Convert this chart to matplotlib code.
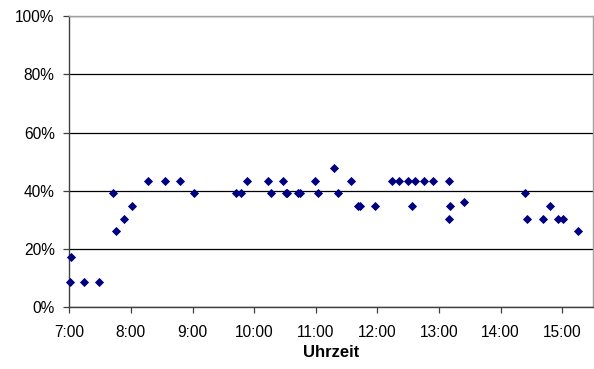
import matplotlib
matplotlib.use('Agg')
import matplotlib.pyplot as plt
from matplotlib.ticker import FuncFormatter, MultipleLocator

# observation times (hh:mm) and share in percent
times = ['7:01', '7:02', '7:14', '7:29', '7:43', '7:45', '7:53', '8:01',
         '8:17', '8:33', '8:48', '9:01', '9:42', '9:47', '9:53', '10:13',
         '10:16', '10:28', '10:31', '10:32', '10:43', '10:45', '10:59', '11:02',
         '11:18', '11:22', '11:34', '11:41', '11:43', '11:58', '12:14', '12:21',
         '12:30', '12:34', '12:37', '12:45', '12:54', '13:10', '13:11', '13:10',
         '13:24', '14:24', '14:26', '14:41', '14:48', '14:56', '15:01', '15:15']
values = [8.7, 17.4, 8.7, 8.7, 39.1, 26.1, 30.4, 34.8,
          43.5, 43.5, 43.5, 39.1, 39.1, 39.1, 43.5, 43.5,
          39.1, 43.5, 39.1, 39.1, 39.1, 39.1, 43.5, 39.1,
          47.8, 39.1, 43.5, 34.8, 34.8, 34.8, 43.5, 43.5,
          43.5, 34.8, 43.5, 43.5, 43.5, 43.5, 34.8, 30.4,
          36.2, 39.1, 30.4, 30.4, 34.8, 30.4, 30.4, 26.1]
x_label = 'Uhrzeit'


def to_hours(t):
    h, m = t.split(':')
    return int(h) + int(m) / 60.0


hours = [to_hours(t) for t in times]

plt.rcParams['font.family'] = ['Liberation Sans', 'DejaVu Sans']

fig = plt.figure(figsize=(5.94, 3.69), dpi=100)
ax = fig.add_axes([0.1167, 0.1672, 0.8817, 0.7894])

ax.plot(hours, values, linestyle='none', marker='D', markersize=3.8,
        markerfacecolor='#000080', markeredgecolor='#000080', markeredgewidth=0.6,
        zorder=3, clip_on=False)

ax.set_xlim(7, 15.5)
ax.set_ylim(0, 100)
ax.set_xticks(range(7, 16))
ax.xaxis.set_major_formatter(FuncFormatter(lambda v, p: '%d:00' % int(round(v))))
ax.yaxis.set_major_locator(MultipleLocator(20))
ax.yaxis.set_major_formatter(FuncFormatter(lambda v, p: '%d%%' % int(round(v))))

ax.grid(axis='y', color='black', linewidth=0.9, zorder=1)
ax.set_axisbelow(True)

for side in ['top', 'right']:
    ax.spines[side].set_color('#a0a0a0')
    ax.spines[side].set_linewidth(1.0)
for side in ['left', 'bottom']:
    ax.spines[side].set_color('#404040')
    ax.spines[side].set_linewidth(1.0)

ax.tick_params(axis='both', direction='out', length=4.5, width=0.9, color='#404040',
               labelsize=11.2, labelcolor='black')
ax.tick_params(axis='x', pad=8.5)
ax.tick_params(axis='y', pad=6)

ax.set_xlabel(x_label, fontweight='bold', fontsize=12, labelpad=3)

fig.savefig('out.png', dpi=100)
